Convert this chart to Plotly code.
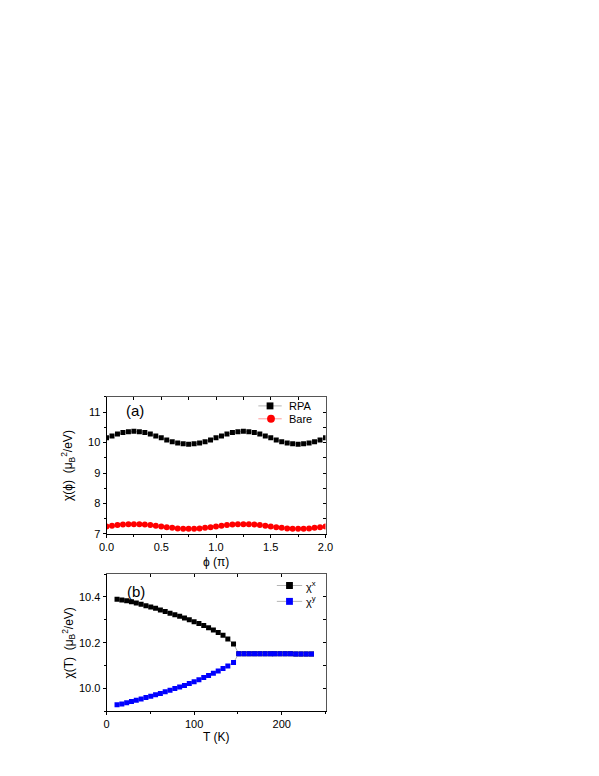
import plotly.graph_objects as go

# ---- panel (a): chi vs phi ----
phi = [0.00, 0.05, 0.10, 0.15, 0.20, 0.25, 0.30, 0.35, 0.40, 0.45,
       0.50, 0.55, 0.60, 0.65, 0.70, 0.75, 0.80, 0.85, 0.90, 0.95,
       1.00, 1.05, 1.10, 1.15, 1.20, 1.25, 1.30, 1.35, 1.40, 1.45,
       1.50, 1.55, 1.60, 1.65, 1.70, 1.75, 1.80, 1.85, 1.90, 1.95, 2.00]
rpa = [10.16, 10.22, 10.28, 10.33, 10.36, 10.37, 10.36, 10.33, 10.28, 10.22,
       10.16, 10.09, 10.03, 9.99, 9.96, 9.95, 9.96, 9.99, 10.03, 10.09,
       10.16, 10.22, 10.28, 10.33, 10.36, 10.37, 10.36, 10.33, 10.28, 10.22,
       10.16, 10.09, 10.03, 9.99, 9.96, 9.95, 9.96, 9.99, 10.03, 10.09, 10.16]
bare = [7.24, 7.27, 7.29, 7.31, 7.32, 7.32, 7.32, 7.31, 7.29, 7.27,
        7.24, 7.22, 7.20, 7.18, 7.17, 7.17, 7.17, 7.18, 7.20, 7.22,
        7.24, 7.27, 7.29, 7.31, 7.32, 7.32, 7.32, 7.31, 7.29, 7.27,
        7.24, 7.22, 7.20, 7.18, 7.17, 7.17, 7.17, 7.18, 7.20, 7.22, 7.24]

# ---- panel (b): chi vs T ----
temp = [12, 17.5, 23, 28.5, 34, 39.5, 45, 50.5, 56, 61.5,
        67, 72.5, 78, 83.5, 89, 94.5, 100, 105.5, 111, 116.5,
        122, 127.5, 133, 138.5, 145,
        151, 157, 163, 169, 175, 181, 187, 192, 198, 204,
        210, 216, 222, 228, 234]
chi_x = [10.390, 10.387, 10.383, 10.379, 10.374, 10.368, 10.362, 10.356, 10.350, 10.343,
         10.336, 10.329, 10.322, 10.315, 10.308, 10.300, 10.292, 10.284, 10.275, 10.265,
         10.255, 10.244, 10.232, 10.216, 10.194,
         10.152, 10.152, 10.152, 10.152, 10.152, 10.151, 10.151, 10.151, 10.151, 10.151,
         10.151, 10.150, 10.150, 10.150, 10.150]
chi_y = [9.928, 9.932, 9.937, 9.942, 9.948, 9.954, 9.960, 9.966, 9.972, 9.978,
         9.985, 9.992, 9.999, 10.006, 10.013, 10.021, 10.029, 10.038, 10.047, 10.056,
         10.066, 10.076, 10.087, 10.098, 10.113,
         10.152, 10.152, 10.152, 10.152, 10.152, 10.151, 10.151, 10.151, 10.151, 10.151,
         10.151, 10.150, 10.150, 10.150, 10.150]

FONT = "Arial, Liberation Sans, sans-serif"
W, H = 599, 776
OFF = 8  # the page body margin shifts the figure by 8px


def px(x, y):
    # reference pixel position -> paper fraction
    return (x - OFF) / W, 1 - (y - OFF) / H


x_dom = [px(101, 0)[0], px(326, 0)[0]]
ya_dom = [px(0, 538)[1], px(0, 400)[1]]
yb_dom = [px(0, 716.7)[1], px(0, 578.5)[1]]

GREY = "#b5b5b5"
PINK = "#ff9a9a"

fig = go.Figure()

fig.add_trace(go.Scatter(x=phi, y=rpa, mode="lines+markers", name="RPA", xaxis="x", yaxis="y",
                         line=dict(color=GREY, width=1),
                         marker=dict(symbol="square", size=5, color="black")))
fig.add_trace(go.Scatter(x=phi, y=bare, mode="lines+markers", name="Bare", xaxis="x", yaxis="y",
                         line=dict(color=PINK, width=1),
                         marker=dict(symbol="circle", size=6, color="red")))
fig.add_trace(go.Scatter(x=temp, y=chi_x, mode="lines+markers", name="χx", xaxis="x2", yaxis="y2",
                         line=dict(color=GREY, width=1),
                         marker=dict(symbol="square", size=5, color="black")))
fig.add_trace(go.Scatter(x=temp, y=chi_y, mode="lines+markers", name="χy", xaxis="x2", yaxis="y2",
                         line=dict(color=GREY, width=1),
                         marker=dict(symbol="square", size=5, color="blue")))

# invisible traces so the mirror axes (inner ticks on top/right) get drawn
for xa, ya in [("x3", "y3"), ("x4", "y4")]:
    fig.add_trace(go.Scatter(x=[None], y=[None], xaxis=xa, yaxis=ya,
                             showlegend=False, hoverinfo="skip"))

tickfont = dict(family=FONT, size=11, color="black")


def main_axis(**kw):
    d = dict(showline=True, linecolor="black", linewidth=1, ticks="outside", ticklen=3,
             tickcolor="black", showgrid=False, zeroline=False, tickfont=tickfont)
    d.update(kw)
    return d


def mirror_axis(**kw):
    d = dict(showline=True, linecolor="#555", linewidth=1, ticks="inside", ticklen=3,
             tickcolor="black", showgrid=False, zeroline=False, showticklabels=False)
    d.update(kw)
    return d


fig.update_layout(
    width=W, height=H,
    margin=dict(l=0, r=0, t=0, b=0),
    paper_bgcolor="white", plot_bgcolor="white",
    font=dict(family=FONT, color="black"),
    showlegend=False,
    xaxis=main_axis(domain=x_dom, anchor="y", range=[0, 2], dtick=0.5, tickformat=".1f",
                    minor=dict(dtick=0.25, ticks="outside", ticklen=2, tickcolor="black")),
    yaxis=main_axis(domain=ya_dom, anchor="x", range=[7, 11.5], dtick=1,
                    minor=dict(dtick=0.5, ticks="outside", ticklen=2, tickcolor="black")),
    xaxis2=main_axis(domain=x_dom, anchor="y2", range=[0, 250], dtick=100,
                     minor=dict(dtick=50, ticks="outside", ticklen=2, tickcolor="black")),
    yaxis2=main_axis(domain=yb_dom, anchor="x2", range=[9.9, 10.5], dtick=0.2, tickformat=".1f",
                     minor=dict(dtick=0.1, ticks="outside", ticklen=2, tickcolor="black")),
    xaxis3=mirror_axis(overlaying="x", anchor="y", side="top", range=[0, 2], dtick=0.25),
    yaxis3=mirror_axis(overlaying="y", anchor="x", side="right", range=[7, 11.5], dtick=0.5),
    xaxis4=mirror_axis(overlaying="x2", anchor="y2", side="top", range=[0, 250], dtick=50),
    yaxis4=mirror_axis(overlaying="y2", anchor="x2", side="right", range=[9.9, 10.5], dtick=0.1),
)

# hand-drawn legends (compact, like the original)
legend_rows = [
    # text, symbol, colour, line colour, line x0, x1, marker x, y, text x
    ("RPA", "square", "black", GREY, 257, 281, 269, 409, 286),
    ("Bare", "circle", "red", PINK, 257, 281, 270, 422, 286),
    ("χ<sup>x</sup>", "square", "black", GREY, 276, 302, 289, 590, 304),
    ("χ<sup>y</sup>", "square", "blue", GREY, 276, 302, 289, 606, 304),
]
for text, sym, col, lcol, lx0, lx1, mx, my, tx in legend_rows:
    x0, y0 = px(lx0, my)
    x1, _ = px(lx1, my)
    fig.add_shape(type="line", xref="paper", yref="paper", x0=x0, x1=x1, y0=y0, y1=y0,
                  line=dict(color=lcol, width=1))
    r = 3.5 if sym == "square" else 4
    bx0, by0 = px(mx - r, my + r)
    bx1, by1 = px(mx + r, my - r)
    fig.add_shape(type="rect" if sym == "square" else "circle", xref="paper", yref="paper",
                  x0=bx0, x1=bx1, y0=by0, y1=by1, fillcolor=col, line=dict(width=0))
    ax, ay = px(tx, my)
    fig.add_annotation(text=text, x=ax, y=ay, xref="paper", yref="paper", showarrow=False,
                       xanchor="left", yanchor="middle",
                       font=dict(family=FONT, size=11, color="black"))

annotations = [
    ("(a)", 130, 414, 15, 0),
    ("(b)", 131, 596, 15, 0),
    ("ϕ (π)", 213, 566, 12, 0),
    ("T (K)", 213, 743, 12, 0),
    ("χ(ϕ)\u00a0\u00a0(μ<sub>B</sub><sup>2</sup>/eV)", 62, 469, 12, -90),
    ("χ(T)\u00a0\u00a0(μ<sub>B</sub><sup>2</sup>/eV)", 62, 648, 12, -90),
]
for text, x, y, size, angle in annotations:
    ax, ay = px(x, y)
    fig.add_annotation(text=text, x=ax, y=ay, xref="paper", yref="paper",
                       showarrow=False, textangle=angle, xanchor="center", yanchor="middle",
                       font=dict(family=FONT, size=size, color="black"))

fig.write_html("out.html")
